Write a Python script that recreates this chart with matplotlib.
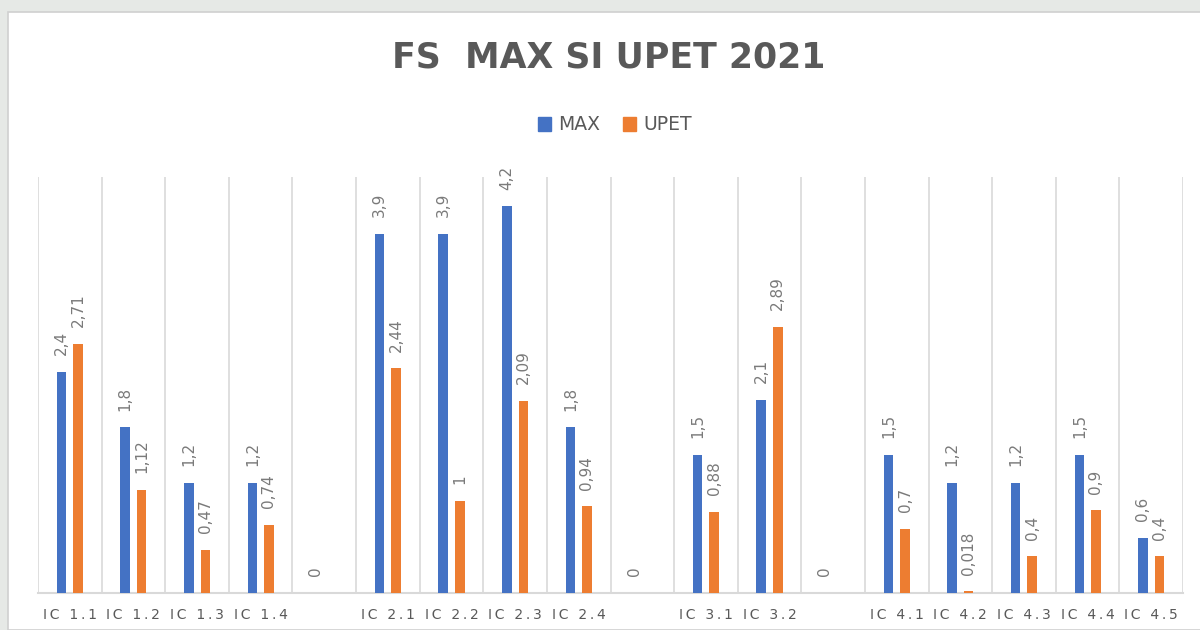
import matplotlib.pyplot as plt
from matplotlib.patches import Rectangle
import numpy as np

# data (None = no bar)
categories = ["IC 1.1", "IC 1.2", "IC 1.3", "IC 1.4", "",
              "IC 2.1", "IC 2.2", "IC 2.3", "IC 2.4", "",
              "IC 3.1", "IC 3.2", "",
              "IC 4.1", "IC 4.2", "IC 4.3", "IC 4.4", "IC 4.5"]
max_vals = [2.4, 1.8, 1.2, 1.2, 0,
            3.9, 3.9, 4.2, 1.8, 0,
            1.5, 2.1, 0,
            1.5, 1.2, 1.2, 1.5, 0.6]
upet_vals = [2.71, 1.12, 0.47, 0.74, None,
             2.44, 1, 2.09, 0.94, None,
             0.88, 2.89, None,
             0.7, 0.018, 0.4, 0.9, 0.4]

BLUE = "#4472C4"
ORANGE = "#ED7D31"
GREY = "#595959"
LABEL_GREY = "#7a7a7a"


def fmt(v):
    return f"{v:g}".replace(".", ",")


def spaced(s):
    # excel style letter spacing for the axis labels (thin spaces)
    return "\u2009".join(s)


fig = plt.figure(figsize=(12, 6.3), dpi=100)
fig.patch.set_facecolor("#e6e9e6")
fig.patches.append(Rectangle((8 / 1200, 0), 1, (630 - 12) / 630,
                             transform=fig.transFigure, facecolor="white",
                             edgecolor="#d0d0d0", linewidth=1.2, zorder=-5))

ax = fig.add_axes([38 / 1200, 1 - 593 / 630, 1145 / 1200, 416 / 630])
ax.set_facecolor("none")
ax.set_zorder(2)

x = np.arange(len(categories))
w = 0.15
off = 0.13

for i, v in enumerate(max_vals):
    ax.bar(x[i] - off, v, w, color=BLUE, zorder=3)
    ax.annotate(fmt(v), (x[i] - off, v), xytext=(0, 12), textcoords="offset points",
                rotation=90, ha="center", va="bottom", fontsize=11, color=LABEL_GREY)

for i, v in enumerate(upet_vals):
    if v is None:
        continue
    ax.bar(x[i] + off, v, w, color=ORANGE, zorder=3)
    ax.annotate(fmt(v), (x[i] + off, v), xytext=(0, 12), textcoords="offset points",
                rotation=90, ha="center", va="bottom", fontsize=11, color=LABEL_GREY)

ax.set_xlim(-0.5, len(categories) - 0.5)
ax.set_ylim(0, 4.52)

# vertical separators between categories
for b in np.arange(-0.5, len(categories), 1.0):
    ax.axvline(b, color="#d9d9d9", linewidth=1.2, zorder=1)

ax.set_xticks(x)
ax.set_xticklabels([spaced(c) for c in categories], fontsize=10, color=GREY)
ax.tick_params(axis="x", length=0, pad=11)
ax.set_yticks([])
for s in ["top", "left", "right"]:
    ax.spines[s].set_visible(False)
ax.spines["bottom"].set_color("#d9d9d9")
ax.spines["bottom"].set_linewidth(1.5)

fig.text(609 / 1200, 1 - 58 / 630, "FS  MAX SI UPET 2021", ha="center", va="center",
         fontsize=25, fontweight="bold", color=GREY, zorder=3)

h1 = Rectangle((0, 0), 1, 1, color=BLUE)
h2 = Rectangle((0, 0), 1, 1, color=ORANGE)
leg = fig.legend([h1, h2], ["MAX", "UPET"], loc="center",
                 bbox_to_anchor=(615 / 1200, 1 - 125 / 630), ncol=2, frameon=False,
                 fontsize=13.5, handlelength=0.7, handleheight=0.7,
                 handletextpad=0.4, columnspacing=1.2)
for t in leg.get_texts():
    t.set_color(GREY)

fig.savefig("out.png", dpi=100)
